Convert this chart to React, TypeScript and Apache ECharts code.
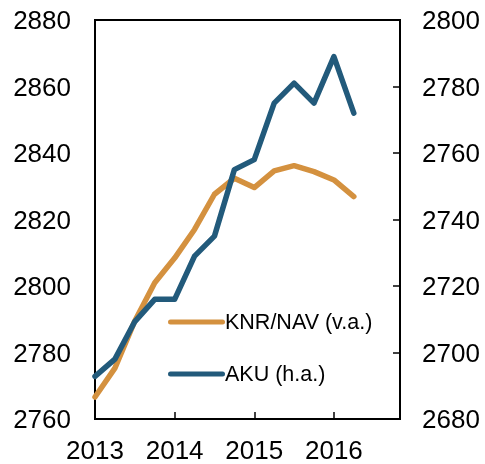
import React, { useEffect, useRef } from "react";
import * as echarts from "echarts";

const quarters = [
  2013.0, 2013.25, 2013.5, 2013.75, 2014.0, 2014.25, 2014.5, 2014.75,
  2015.0, 2015.25, 2015.5, 2015.75, 2016.0, 2016.25,
];
const knrNav = [
  2766.6, 2775.3, 2789.5, 2801, 2808.4, 2817, 2827.6, 2832.4,
  2829.6, 2834.6, 2836.2, 2834.4, 2831.9, 2826.9,
];
const aku = [
  2692.8, 2698, 2709.3, 2716, 2716, 2729, 2735, 2755,
  2758, 2775, 2781, 2775, 2789, 2772,
];
const seriesNames = ["KNR/NAV (v.a.)", "AKU (h.a.)"];
const xTicks = [2013, 2014, 2015, 2016];

const ORANGE = "#D4913F";
const BLUE = "#225A7B";

export default function App() {
  const ref = useRef<HTMLDivElement>(null);
  useEffect(() => {
    if (!ref.current) return;
    const chart = echarts.init(ref.current, undefined, { renderer: "svg" });
    const font = "Arial, 'Liberation Sans', sans-serif";
    const capsule =
      "path://M2.5,0 L54.5,0 A2.5,2.5 0 0 1 54.5,5 L2.5,5 A2.5,2.5 0 0 1 2.5,0 Z";
    chart.setOption({
      animation: false,
      grid: {
        left: 95,
        right: 85,
        top: 20,
        bottom: 45,
        show: true,
        borderColor: "#000",
        borderWidth: 2,
        backgroundColor: "transparent",
      },
      legend: {
        orient: "vertical",
        left: 163,
        top: 305,
        itemWidth: 57,
        itemHeight: 5,
        itemGap: 28,
        data: [
          { name: seriesNames[0], icon: capsule, itemStyle: { color: ORANGE } },
          { name: seriesNames[1], icon: capsule, itemStyle: { color: BLUE } },
        ],
        textStyle: {
          fontFamily: font,
          fontSize: 21.5,
          color: "#000",
          lineHeight: 24,
          padding: [0, 0, 0, -5],
        },
      },
      xAxis: {
        type: "value",
        min: 2013,
        max: 2016.83,
        interval: 1,
        splitLine: { show: false },
        axisLine: { show: true, lineStyle: { color: "#000", width: 2 } },
        axisTick: {
          show: true,
          inside: true,
          length: 7,
          lineStyle: { color: "#000", width: 1.5 },
        },
        axisLabel: {
          margin: 18,
          fontFamily: font,
          fontSize: 26,
          color: "#000",
          formatter: (v: number) =>
            xTicks.includes(Math.round(v * 100) / 100) ? String(Math.round(v)) : "",
        },
      },
      yAxis: [
        {
          type: "value",
          min: 2760,
          max: 2880,
          interval: 20,
          splitLine: { show: false },
          axisLine: { show: true, lineStyle: { color: "#000", width: 2 } },
          axisTick: { show: false },
          axisLabel: {
            margin: 24,
            fontFamily: font,
            fontSize: 26,
            color: "#000",
            formatter: (v: number) => String(v),
          },
        },
        {
          type: "value",
          min: 2680,
          max: 2800,
          interval: 20,
          position: "right",
          splitLine: { show: false },
          axisLine: { show: true, lineStyle: { color: "#000", width: 2 } },
          axisTick: {
            show: true,
            inside: true,
            length: 7,
            lineStyle: { color: "#000", width: 1.5 },
          },
          axisLabel: {
            margin: 22,
            fontFamily: font,
            fontSize: 26,
            color: "#000",
            formatter: (v: number) => String(v),
          },
        },
      ],
      series: [
        {
          name: seriesNames[0],
          type: "line",
          yAxisIndex: 0,
          data: quarters.map((q, i) => [q, knrNav[i]]),
          showSymbol: false,
          symbol: "none",
          lineStyle: { color: ORANGE, width: 5.5, cap: "round", join: "round" },
          itemStyle: { color: ORANGE },
        },
        {
          name: seriesNames[1],
          type: "line",
          yAxisIndex: 1,
          data: quarters.map((q, i) => [q, aku[i]]),
          showSymbol: false,
          symbol: "none",
          lineStyle: { color: BLUE, width: 5.5, cap: "round", join: "round" },
          itemStyle: { color: BLUE },
        },
      ],
    });
    return () => chart.dispose();
  }, []);
  return (
    <div
      ref={ref}
      style={{ position: "fixed", left: 0, top: 0, width: 485, height: 464 }}
    />
  );
}
